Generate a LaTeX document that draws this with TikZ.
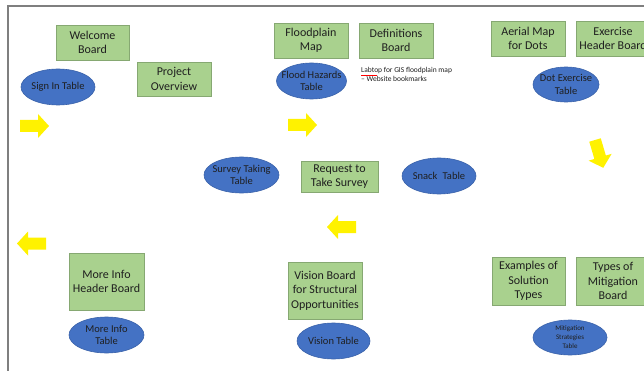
\documentclass[tikz,border=0pt]{standalone}
\usepackage{fontspec}
\setmainfont{Carlito}
\usetikzlibrary{shapes.geometric}
\definecolor{boxg}{HTML}{A9D18E}
\definecolor{boxgd}{HTML}{86A872}
\definecolor{ellb}{HTML}{4472C4}
\definecolor{ellbd}{HTML}{3A62AA}
\definecolor{txt}{HTML}{1F1F1F}
\definecolor{frame}{HTML}{7F7F7F}
\begin{document}
\begin{tikzpicture}[x=1pt,y=-1pt,
  board/.style={draw=boxgd,line width=0.6pt,fill=boxg,inner sep=0pt,align=center,
     text=txt,font=\fontsize{12}{14.5}\selectfont},
  tbl/.style={ellipse,draw=ellbd,line width=0.6pt,fill=ellb,inner sep=0pt},
  tbltext/.style={align=center,text=txt,inner sep=0pt,font=\fontsize{10.5}{12.5}\selectfont},
  blockarrow/.pic={\fill[yellow] (0,-6) -- (18,-6) -- (18,-12) -- (29,0) -- (18,12) -- (18,6) -- (0,6) -- cycle;}
]
\useasboundingbox (0,0) rectangle (644,371);
\fill[white] (0,0) rectangle (644,371);
% frame
\draw[frame,line width=1.2pt] (8,371) -- (8,6) -- (650,6);

% boards
\node[board,minimum width=73pt,minimum height=35pt] (welcome) at (92.5,42.5) {Welcome\\Board};
\node[board,minimum width=74pt,minimum height=34pt] (project) at (174,79) {Project\\Overview};
\node[board,minimum width=74pt,minimum height=35pt] (floodmap) at (311,40.5) {Floodplain\\Map};
\node[board,minimum width=74pt,minimum height=35pt] (defs) at (396,40.5) {Definitions\\Board};
\node[board,minimum width=74pt,minimum height=35pt] (aerial) at (528,38.5) {Aerial Map\\for Dots};
\node[board,minimum width=74pt,minimum height=35pt] (exercise) at (613,38.5) {Exercise\\Header Board};
\node[board,minimum width=77pt,minimum height=31pt] (request) at (339.5,176.5) {Request to\\Take Survey};
\node[board,minimum width=75pt,minimum height=57pt] (moreinfo) at (106.5,281.5) {More Info\\Header Board};
\node[board,minimum width=74pt,minimum height=57pt] (vision) at (325,290.5) {Vision Board\\for Structural\\Opportunities};
\node[board,minimum width=73pt,minimum height=48pt] (examples) at (528.5,281) {Examples of\\Solution\\Types};
\node[board,minimum width=74pt,minimum height=48pt] (types) at (613,281) {Types of\\Mitigation\\Board};

% tables
\node[tbl,minimum width=74pt,minimum height=36pt] (signin) at (58,87) {};
\node[tbltext] (signinT) at (signin) {Sign In Table};
\node[tbl,minimum width=70pt,minimum height=36pt] (flood) at (311.5,81) {};
\node[tbltext] (floodT) at (flood) {Flood Hazards\\Table};
\node[tbl,minimum width=66pt,minimum height=35pt] (dot) at (566,84.5) {};
\node[tbltext] (dotT) at (dot) {Dot Exercise\\Table};
\node[tbl,minimum width=75pt,minimum height=36pt] (survey) at (241.5,175) {};
\node[tbltext] (surveyT) at (survey) {Survey Taking\\Table};
\node[tbl,minimum width=74pt,minimum height=36pt] (snack) at (439,176) {};
\node[tbltext] (snackT) at (snack) {Snack\enspace Table};
\node[tbl,minimum width=75pt,minimum height=36pt] (moreinfotbl) at (106.5,335) {};
\node[tbltext] (moreinfoT) at (moreinfotbl) {More Info\\Table};
\node[tbl,minimum width=73pt,minimum height=36pt] (visiontbl) at (333.5,341) {};
\node[tbltext] (visionT) at (visiontbl) {Vision Table};
\node[tbl,minimum width=74pt,minimum height=35pt] (mitig) at (570,337.5) {};
\node[tbltext,font=\fontsize{7}{9}\selectfont] (mitigT) at (mitig) {Mitigation\\Strategies\\Table};

% note
\node[anchor=north west,align=left,inner sep=0pt,text=txt,font=\fontsize{7.5}{9}\selectfont] (note) at (361,67) {Labtop for GIS floodplain map\\– Website bookmarks};
\draw[red,line width=0.4pt] (note.north west) ++(0,7.8) -- ++(16,0);

% yellow arrows
\pic at (20,126) {blockarrow};
\pic at (288,125) {blockarrow};
\pic[rotate=-73.5] at (595,140) {blockarrow};
\pic[rotate=180] at (356,227) {blockarrow};
\pic[rotate=180] at (46,243.5) {blockarrow};
\end{tikzpicture}
\end{document}
